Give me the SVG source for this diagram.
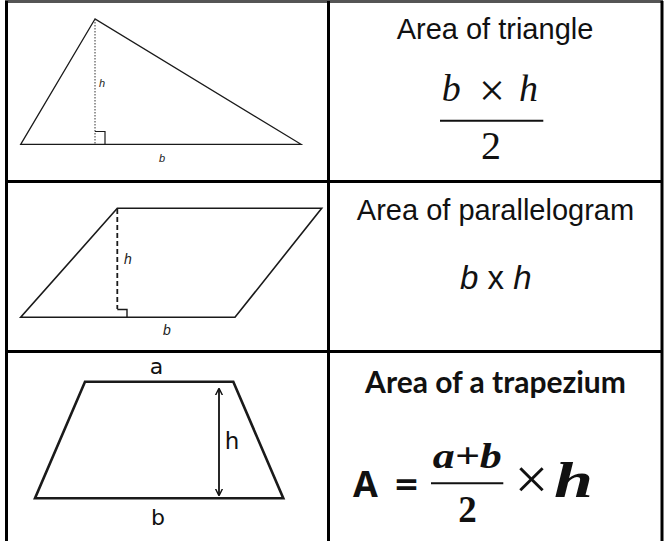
<svg xmlns="http://www.w3.org/2000/svg" width="664" height="541" viewBox="0 0 664 541">
<style>
.grid{stroke:#000;stroke-width:3;fill:none}
.shape{fill:none;stroke:#1a1a1a;stroke-linejoin:miter}
.head{font-family:"Liberation Sans",Arial,sans-serif;font-size:29px;fill:#111;text-anchor:middle}
.lbl{font-family:"Liberation Sans",Arial,sans-serif;font-style:italic;fill:#222}
.tz{font-family:"DejaVu Sans","Liberation Sans",sans-serif;fill:#111}
.mi{font-family:"Liberation Serif","Times New Roman",serif;font-style:italic;fill:#111}
.mr{font-family:"Liberation Serif","Times New Roman",serif;fill:#111}
.mb{font-family:"Liberation Serif","Times New Roman",serif;font-weight:bold;fill:#111}
</style>
<defs>
<marker id="arr" viewBox="0 0 10 10" refX="9" refY="5" markerWidth="4" markerHeight="4" orient="auto-start-reverse" markerUnits="strokeWidth">
<path d="M0,0 L10,5 L0,10" fill="none" stroke="#111" stroke-width="2"/>
</marker>
</defs>
<rect x="0" y="0" width="664" height="541" fill="#fff"/>
<g id="grid">
<line x1="5" y1="1.5" x2="663" y2="1.5" stroke="#555" stroke-width="3"/>
<line class="grid" x1="6.5" y1="1" x2="6.5" y2="541"/>
<line class="grid" x1="328.5" y1="1" x2="328.5" y2="541"/>
<line class="grid" x1="662" y1="1" x2="662" y2="541"/>
<line class="grid" x1="5" y1="181.5" x2="663" y2="181.5"/>
<line class="grid" x1="5" y1="351.5" x2="663" y2="351.5"/>
</g>
<g id="triangle">
<polygon class="shape" stroke-width="1.3" points="95,19 20.7,144.3 301,144.3"/>
<line x1="95" y1="19" x2="95" y2="144" stroke="#333" stroke-width="1" stroke-dasharray="1.5 1.5"/>
<polyline class="shape" stroke-width="1.2" points="95,131.5 105,131.5 105,144.3"/>
<text class="lbl" x="99" y="87" font-size="11">h</text>
<text class="lbl" x="159" y="162" font-size="11">b</text>
</g>
<g id="triangle-formula">
<text class="head" x="495" y="39">Area of triangle</text>
<text class="mi" x="441.7" y="100.5" font-size="38">b</text>
<text class="mr" x="479" y="106" font-size="46">×</text>
<text class="mi" x="519" y="100.5" font-size="38">h</text>
<line x1="440" y1="120.7" x2="543.3" y2="120.7" stroke="#111" stroke-width="2"/>
<text class="mr" x="491" y="159.3" font-size="40" text-anchor="middle">2</text>
</g>
<g id="parallelogram">
<polygon class="shape" stroke-width="1.6" points="117.3,208.3 321.7,208.3 235,317.3 20.7,317.3"/>
<line x1="117.3" y1="209" x2="117.3" y2="309" stroke="#1a1a1a" stroke-width="1.8" stroke-dasharray="5 3"/>
<polyline class="shape" stroke-width="1.4" points="117.3,309.5 127,309.5 127,317.3"/>
<text class="lbl" x="124" y="263.5" font-size="14">h</text>
<text class="lbl" x="163" y="335" font-size="14">b</text>
</g>
<g id="parallelogram-formula">
<text class="head" x="495.5" y="219.5">Area of parallelogram</text>
<text x="495.8" y="288.5" font-size="33" font-family="Liberation Sans,Arial,sans-serif" fill="#111" text-anchor="middle"><tspan font-style="italic">b</tspan> x <tspan font-style="italic">h</tspan></text>
</g>
<g id="trapezium">
<polygon class="shape" stroke-width="2.6" points="85,381.7 233.3,381.7 283.3,498.3 35,498.3"/>
<text class="tz" x="156.5" y="373.5" font-size="22" text-anchor="middle">a</text>
<text class="tz" x="158" y="525" font-size="22" text-anchor="middle">b</text>
<text class="tz" x="232" y="448.5" font-size="23" text-anchor="middle">h</text>
</g>
<g id="connectors">
<line x1="219" y1="389" x2="219" y2="495" stroke="#111" stroke-width="1.8" marker-start="url(#arr)" marker-end="url(#arr)"/>
</g>
<g id="trapezium-formula">
<text x="495.5" y="392.7" font-size="30" font-family="Lato,'Open Sans',sans-serif" font-weight="bold" fill="#111" text-anchor="middle">Area of a trapezium</text>
<text x="353" y="496.7" font-size="36" font-family="'Open Sans','Liberation Sans',sans-serif" font-weight="bold" fill="#111">A</text>
<text x="395" y="496.7" font-size="36" font-family="'Open Sans','Liberation Sans',sans-serif" font-weight="bold" fill="#111" textLength="23" lengthAdjust="spacingAndGlyphs">=</text>
<text class="mb" x="432.7" y="468.3" font-size="36" font-style="italic" textLength="69" lengthAdjust="spacingAndGlyphs">a+b</text>
<line x1="431" y1="483.3" x2="503.3" y2="483.3" stroke="#111" stroke-width="2"/>
<text class="mb" x="467.5" y="521.7" font-size="37" text-anchor="middle">2</text>
<text class="mr" x="514.5" y="499" font-size="60">×</text>
<text class="mb" x="554" y="496.7" font-size="50" font-style="italic" textLength="39" lengthAdjust="spacingAndGlyphs">h</text>
</g>
</svg>
